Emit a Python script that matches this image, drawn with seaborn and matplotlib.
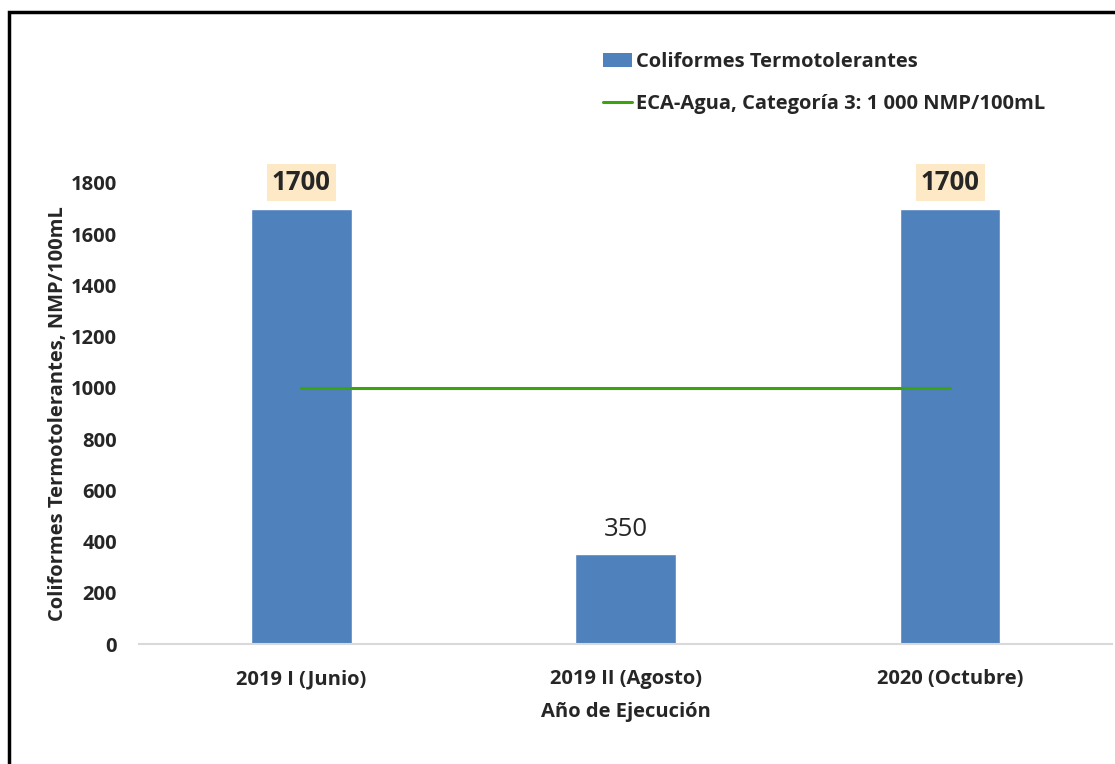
import numpy as np
import pandas as pd
import seaborn as sns
import matplotlib.pyplot as plt
from matplotlib.patches import Patch, Rectangle
from matplotlib.lines import Line2D

## data
categories = ["2019 I (Junio)", "2019 II (Agosto)", "2020 (Octubre)"]
coliformes = [1700, 350, 1700]
eca_limit = [1000, 1000, 1000]
highlight = [True, False, True]

bar_color = "#4F81BD"
line_color = "#3DA30C"

sns.set_style("white")
plt.rcParams['font.family'] = ['Open Sans', 'DejaVu Sans']

df = pd.DataFrame({"Periodo": categories, "Valor": coliformes})

fig = plt.figure(figsize=(11.15, 7.64), dpi=100)
ax = fig.add_axes([0.1247, 0.157, 0.873, 0.6035])

sns.barplot(data=df, x="Periodo", y="Valor", color=bar_color, width=0.31,
            saturation=1, ax=ax)
ax.plot(range(len(categories)), eca_limit, color=line_color, lw=2.2)

ax.set_ylim(0, 1800)
ax.set_yticks(np.arange(0, 1801, 200))
ax.set_xlim(-0.5, 2.5)
for s in ["top", "right", "left"]:
    ax.spines[s].set_visible(False)
ax.spines["bottom"].set_color("#D9D9D9")
ax.spines["bottom"].set_linewidth(1.5)
ax.tick_params(axis="y", length=0, pad=16, labelsize=14.5)
ax.tick_params(axis="x", length=0, pad=18, labelsize=14.5)
for t in ax.get_xticklabels() + ax.get_yticklabels():
    t.set_fontweight("bold")

ax.set_xlabel("Año de Ejecución", fontsize=14.5, fontweight="bold", labelpad=9)
ax.set_ylabel("Coliformes Termotolerantes, NMP/100mL", fontsize=14.5,
              fontweight="bold", labelpad=2)

## value labels
for i, v in enumerate(coliformes):
    if highlight[i]:
        ax.text(i, v + 50, str(v), ha="center", va="bottom", fontsize=18.5,
                fontweight="bold", clip_on=False,
                bbox=dict(boxstyle="square,pad=0.2", fc="#FDE9C5", ec="none"))
    else:
        ax.text(i, v + 50, str(v), ha="center", va="bottom", fontsize=18.5)

## legend
handles = [Patch(facecolor=bar_color, edgecolor="none"),
           Line2D([0], [0], color=line_color, lw=2.2)]
labels = ["Coliformes Termotolerantes", "ECA-Agua, Categoría 3: 1 000 NMP/100mL"]
leg = fig.legend(handles, labels, loc="upper left", bbox_to_anchor=(0.534, 0.943),
                 frameon=False, fontsize=14.5, handlelength=1.4, handletextpad=0.2,
                 labelspacing=1.1, borderaxespad=0)
for t in leg.get_texts():
    t.set_fontweight("bold")

## outer frame
fig.patches.append(Rectangle((0.008, -0.2), 1.2, 1.184, transform=fig.transFigure,
                             fill=False, ec="black", lw=2.5, clip_on=False))

fig.savefig("out.png", dpi=100)
